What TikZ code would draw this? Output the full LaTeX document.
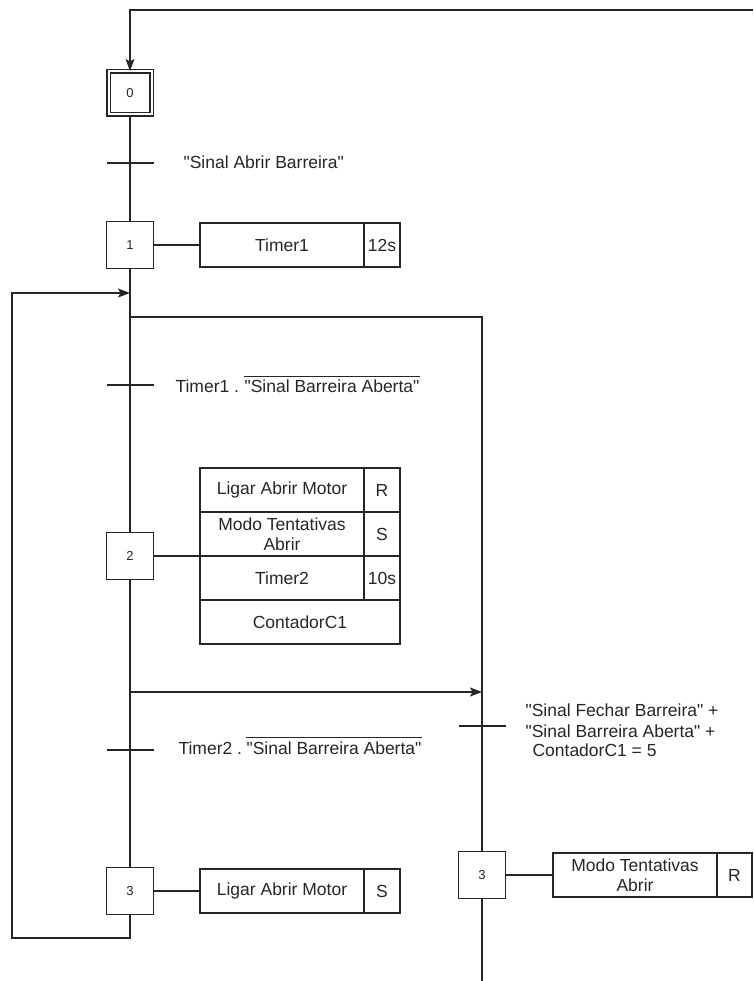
\documentclass[tikz,border=0pt]{standalone}
\usepackage{fontspec}
\setmainfont{Liberation Sans}
\font\qf="Liberation Sans" at 17.5pt
\newcommand\qq{{\qf"}}
\usetikzlibrary{arrows.meta,calc}
\begin{document}
\begin{tikzpicture}[x=1pt,y=-1pt,line width=1.1pt,color=black!85,
  stepbox/.style={draw,minimum width=47pt,minimum height=47pt,inner sep=0pt,font=\fontsize{13}{15}\selectfont},
  act/.style={draw,minimum height=44pt,inner sep=0pt,align=center,font=\fontsize{17.5}{20}\selectfont},
  actw/.style={act,minimum width=164pt},
  actn/.style={act,minimum width=36pt},
  lbl/.style={anchor=base west,inner sep=0pt,font=\fontsize{17.5}{20}\selectfont},
  arr/.style={-{Stealth[length=12pt,width=9pt,inset=2.5pt]}}]
\useasboundingbox (0,0) rectangle (753,981);

% steps
\node[stepbox,double,double distance=2pt,minimum width=43pt,minimum height=43pt] (s0) at (130,93) {0};
\node[stepbox] (s1) at (130,245) {1};
\node[stepbox] (s2) at (130,556) {2};
\node[stepbox] (s3) at (130,891) {3};
\node[stepbox] (s3r) at (482,875) {3};

% actions
\node[actw] (a1) at (282,245) {Timer1};
\node[actn] (a1t) at (382,245) {12s};

\node[actw] (r1) at (282,490) {Ligar Abrir Motor};
\node[actn] (r1q) at (382,490) {R};
\node[actw] (r2) at (282,534) {Modo Tentativas\\Abrir};
\node[actn] (r2q) at (382,534) {S};
\node[actw] (r3) at (282,578) {Timer2};
\node[actn] (r3q) at (382,578) {10s};
\node[act,minimum width=200pt] (r4) at (300,622) {ContadorC1};

\node[actw] (a3) at (282,891) {Ligar Abrir Motor};
\node[actn] (a3q) at (382,891) {S};

\node[actw] (a4) at (635,875) {Modo Tentativas\\Abrir};
\node[actn,minimum width=35pt] (a4q) at (734.5,875) {R};

% step-action links
\draw (s1) -- (a1);
\draw (s2.east) -- (s2.east -| r2.west);
\draw (s3) -- (a3);
\draw (s3r) -- (a4);

% flow
\coordinate (ret) at (753,10);
\draw[arr] (ret) -| (s0.north);
\draw (s0) -- (s1);
\draw (s1) -- (s2);
\draw (s2) -- (s3);

\coordinate (lb) at (12,938);
\coordinate (li) at (130,293);
\draw[arr] (s3.south) |- (lb) |- (li);

\coordinate (dv) at (130,317);
\draw (dv) -| (s3r.north);
\coordinate (dw) at (130,692);
\coordinate (dj) at (482,692);
\draw[arr] (dw) -- (dj);
\coordinate (rend) at (482,981);
\draw (s3r.south) -- (rend);

% transitions
\coordinate (t0) at (130,163);
\coordinate (t1) at (130,385);
\coordinate (t2) at (130,750);
\coordinate (t3) at (482,726);
\foreach \t in {t0,t1,t2,t3}
  \draw ($(\t)+(-23.5,0)$) -- ($(\t)+(23.5,0)$);

% labels
\node[lbl] (c0) at (183,168.3) {\qq Sinal Abrir Barreira\qq};
\node[lbl] (c1a) at (175,392.7) {Timer1 .};
\node[lbl] (c1b) at (244,392.7) {\qq Sinal Barreira Aberta\qq};
\draw[line width=1pt] ([yshift=3pt]c1b.north west) -- ([yshift=3pt]c1b.north east);
\node[lbl] (c2a) at (178,754) {Timer2 .};
\node[lbl] (c2b) at (246,754) {\qq Sinal Barreira Aberta\qq};
\draw[line width=1pt] ([yshift=3pt]c2b.north west) -- ([yshift=3pt]c2b.north east);
\node[lbl] (c3a) at (525,716) {\qq Sinal Fechar Barreira\qq{} +};
\node[lbl] (c3b) at (525,737) {\qq Sinal Barreira Aberta\qq{} +};
\node[lbl] (c3c) at (532,756) {ContadorC1 = 5};
\end{tikzpicture}
\end{document}
